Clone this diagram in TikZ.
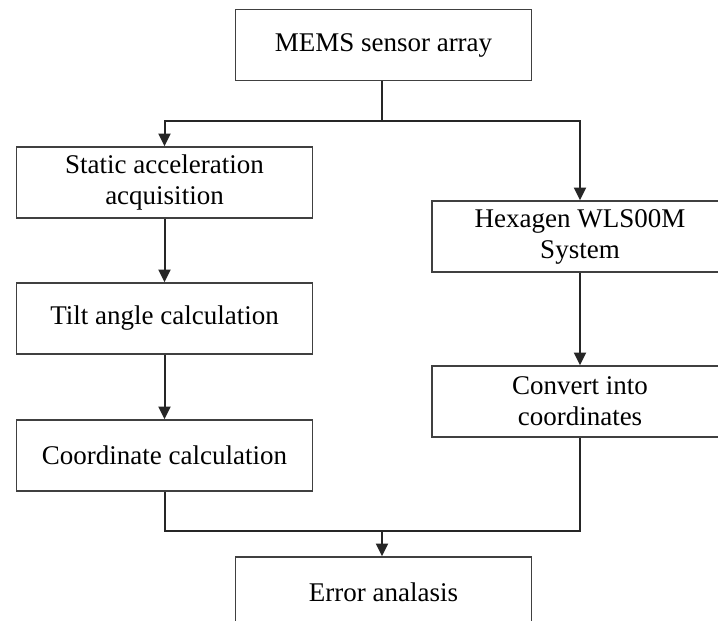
\documentclass[tikz,border=0pt]{standalone}
\usepackage{fontspec}
\setmainfont{Liberation Serif}
\usetikzlibrary{arrows.meta}

\tikzset{
  stepbox/.style={draw=black!75, line width=1.2pt, minimum width=222pt, minimum height=53.25pt,
    inner sep=0pt, align=center, font=\fontsize{20.25pt}{23.25pt}\selectfont},
  flow/.style={draw=black!85, line width=1.5pt},
  arr/.style={flow, -{Triangle[length=9.5pt,width=9pt]}}
}

\begin{document}
\begin{tikzpicture}[x=0.75pt,y=0.75pt]
    \useasboundingbox (0,0) rectangle (718,621);
    \clip (0,0) rectangle (718,621);
    \fill[white] (0,0) rectangle (718,621);
    % Boxes
    \node[stepbox] (mems) at (383.5,576) {MEMS sensor array};
    \node[stepbox] (static) at (164.5,438.5) {Static acceleration\\acquisition};
    \node[stepbox] (tilt) at (164.5,302.5) {Tilt angle calculation};
    \node[stepbox] (coord) at (164.5,165.5) {Coordinate calculation};
    \node[stepbox] (hexagen) at (580,384.5) {Hexagen WLS00M\\System};
    \node[stepbox] (convert) at (580,219.5) {Convert into\\coordinates};
    \node[stepbox] (error) at (383.5,28.5) {Error analasis};
    % Split and join points
    \coordinate (split) at (382,500);
    \coordinate (join) at (382,90);
    % Upper branch
    \draw[flow] (mems.south -| split) -- (split);
    \draw[arr] (split) -| (static.north);
    \draw[arr] (split) -| (hexagen.north);
    % Left column
    \draw[arr] (static) -- (tilt);
    \draw[arr] (tilt) -- (coord);
    % Right column
    \draw[arr] (hexagen) -- (convert);
    % Lower join
    \draw[flow] (coord.south) |- (join);
    \draw[flow] (convert.south) |- (join);
    \draw[arr] (join) -- (error.north -| join);
\end{tikzpicture}
\end{document}
